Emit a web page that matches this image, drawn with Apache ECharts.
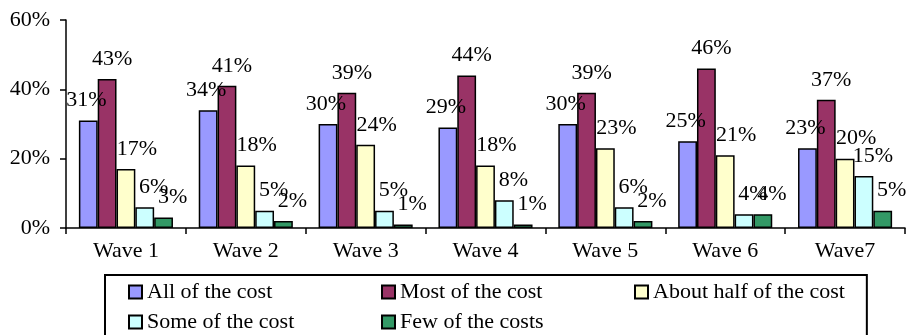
<!DOCTYPE html>
<html>
<head>
<meta charset="utf-8">
<script src="https://cdn.jsdelivr.net/npm/echarts@6/dist/echarts.min.js"></script>
<style>
html,body{margin:0;padding:0;background:#fff;}
#chart{width:909px;height:335px;}
</style>
</head>
<body>
<div id="chart"></div>
<script>
var categories = ['Wave 1','Wave 2','Wave 3','Wave 4','Wave 5','Wave 6','Wave7'];
var seriesNames = ['All of the cost','Most of the cost','About half of the cost','Some of the cost','Few of the costs'];
var allCost = [31,34,30,29,30,25,23];
var mostCost = [43,41,39,44,39,46,37];
var halfCost = [17,18,24,18,23,21,20];
var someCost = [6,5,5,8,6,4,15];
var fewCost = [3,2,1,1,2,4,5];
var yTicks = [0,20,40,60];

var values = [allCost, mostCost, halfCost, someCost, fewCost];
var colors = ['#9999FF','#993366','#FFFFCC','#CCFFFF','#339966'];
var labelOffsets = [[-2,0],[5,0],[11,0],[9,0],[9,0]];
var FONT = '"Liberation Serif","Times New Roman",serif';

var chart = echarts.init(document.getElementById('chart'), null, {renderer:'canvas'});
var series = seriesNames.map(function(name, i){
  return {
    name: name,
    type: 'bar',
    data: values[i],
    barGap: '0%',
    barCategoryGap: '21.5%',
    itemStyle: {color: colors[i], borderColor: '#000', borderWidth: 1.5},
    label: {
      show: true, position: 'top', distance: 9, offset: labelOffsets[i],
      formatter: '{c}%', color: '#000', fontFamily: FONT, fontSize: 22
    },
    emphasis: {disabled: true}
  };
});

chart.setOption({
  animation: false,
  backgroundColor: '#fff',
  grid: {left: 66, right: 4, top: 20, bottom: 107, containLabel: false},
  xAxis: {
    type: 'category', data: categories,
    axisLine: {lineStyle: {color: '#000', width: 1.5}},
    axisTick: {show: true, length: 6, lineStyle: {color: '#000', width: 1.5}},
    axisLabel: {color: '#000', fontFamily: FONT, fontSize: 22, margin: 12}
  },
  yAxis: {
    type: 'value', min: yTicks[0], max: yTicks[yTicks.length-1], interval: yTicks[1]-yTicks[0],
    axisLine: {show: true, lineStyle: {color: '#000', width: 1.5}},
    axisTick: {show: true, length: 6, lineStyle: {color: '#000', width: 1.5}},
    splitLine: {show: false},
    axisLabel: {color: '#000', fontFamily: FONT, fontSize: 22, margin: 16, padding: [4,0,0,0], formatter: '{value}%'}
  },
  legend: {
    left: 105, top: 275, width: 720,
    orient: 'horizontal',
    padding: [6, 22, 20, 23],
    borderColor: '#000', borderWidth: 2,
    itemWidth: 13, itemHeight: 13, itemGap: 8,
    icon: 'rect',
    data: seriesNames,
    formatter: function(name){
      var idx = seriesNames.indexOf(name);
      return (idx % 3 === 2) ? '{n|' + name + '}' : '{w|' + name + '}';
    },
    textStyle: {
      color: '#000', fontFamily: FONT, fontSize: 22,
      rich: {
        w: {width: 226, lineHeight: 22, fontFamily: FONT, fontSize: 22, color: '#000'},
        n: {lineHeight: 22, fontFamily: FONT, fontSize: 22, color: '#000'}
      }
    }
  },
  series: series
});
</script>
</body>
</html>
